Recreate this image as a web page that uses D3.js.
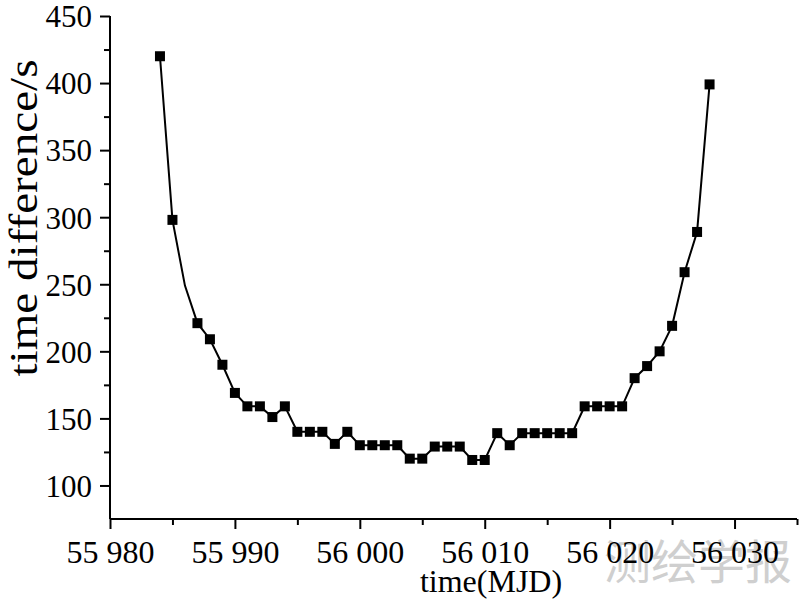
<!DOCTYPE html>
<html>
<head>
<meta charset="utf-8">
<script src="https://cdn.jsdelivr.net/npm/d3@7"></script>
<style>
  html, body { margin: 0; padding: 0; background: #fff; }
  svg { display: block; }
</style>
</head>
<body>
<svg id="chart" width="800" height="612"></svg>
<script>
// line vertices (55986 is a vertex of the line with no marker in the reference)
const mjd = [55984, 55985, 55986, 55987, 55988, 55989, 55990, 55991, 55992, 55993, 55994,
             55995, 55996, 55997, 55998, 55999, 56000, 56001, 56002, 56003, 56004,
             56005, 56006, 56007, 56008, 56009, 56010, 56011, 56012, 56013, 56014,
             56015, 56016, 56017, 56018, 56019, 56020, 56021, 56022, 56023, 56024,
             56025, 56026, 56027, 56028];
const timeDiff = [420, 298, 249, 221, 209, 190, 169, 159, 159, 151, 159,
                  140, 140, 140, 131, 140, 130, 130, 130, 130, 120,
                  120, 129, 129, 129, 119, 119, 139, 130, 139, 139,
                  139, 139, 139, 159, 159, 159, 159, 180, 189, 200,
                  219, 259, 289, 399];
const unmarked = [55986];
const xMajorTicks = [55980, 55990, 56000, 56010, 56020, 56030];
const xMinorTicks = [55985, 55995, 56005, 56015, 56025, 56035];
const yMajorTicks = [100, 150, 200, 250, 300, 350, 400, 450];
const yMinorTicks = [125, 175, 225, 275, 325, 375, 425];
const xTitle = "time(MJD)";
const yTitle = "time difference/s";
const watermark = "测绘学报";

const SERIF = "'Liberation Serif', 'Times New Roman', serif";
const svg = d3.select("#chart");
const x = d3.scaleLinear().domain([55980, 56035]).range([110, 797]);
const y = d3.scaleLinear().domain([75, 450]).range([519, 16]);

const fmtX = v => { const s = String(v); return s.slice(0, 2) + " " + s.slice(2); };

// watermark
svg.append("text")
  .attr("x", 698).attr("y", 579)
  .attr("text-anchor", "middle")
  .style("font-family", "'Noto Sans CJK SC', sans-serif")
  .style("font-size", "47px")
  .style("fill", "#cfcfcf")
  .text(watermark);

// x axis
const gx = svg.append("g").attr("transform", "translate(0,519)");
gx.call(d3.axisBottom(x).tickValues(xMinorTicks).tickSize(6).tickFormat(""));
gx.append("g").call(d3.axisBottom(x).tickValues(xMajorTicks).tickSize(10).tickPadding(10).tickFormat(fmtX));
gx.selectAll("path.domain").attr("d", `M${x.range()[0]},0H${x.range()[1]}`);
gx.selectAll(".tick text").attr("dy", "0.74em")
  .attr("font-family", SERIF).style("font-family", SERIF).style("font-size", "32px").style("fill", "#000");

// y axis
const gy = svg.append("g").attr("transform", "translate(110,0)");
gy.call(d3.axisLeft(y).tickValues(yMinorTicks).tickSize(6).tickFormat(""));
gy.append("g").call(d3.axisLeft(y).tickValues(yMajorTicks).tickSize(10).tickPadding(8).tickFormat(d3.format("d")));
gy.selectAll("path.domain").attr("d", `M0,${y.range()[0]}V${y.range()[1]}`);
gy.selectAll(".tick text").attr("dy", "0.35em")
  .attr("font-family", SERIF).style("font-family", SERIF).style("font-size", "31px").style("fill", "#000");

svg.selectAll(".domain").attr("fill", "none").attr("stroke", "#000").attr("stroke-width", 2);
svg.selectAll(".tick line").attr("stroke", "#000").attr("stroke-width", 2);

// titles
svg.append("text")
  .attr("x", 491).attr("y", 592)
  .attr("text-anchor", "middle")
  .style("font-family", SERIF)
  .style("font-size", "32px")
  .text(xTitle);
svg.append("text")
  .attr("transform", "translate(37,218) rotate(-90)")
  .attr("text-anchor", "middle")
  .attr("textLength", 317)
  .attr("lengthAdjust", "spacingAndGlyphs")
  .style("font-family", SERIF)
  .style("font-size", "40px")
  .text(yTitle);

// line
const pts = mjd.map((m, i) => [m, timeDiff[i]]);
const line = d3.line().x(d => x(d[0])).y(d => y(d[1]));
svg.append("path")
  .datum(pts)
  .attr("d", line)
  .attr("fill", "none")
  .attr("stroke", "#000")
  .attr("stroke-width", 2);

// markers
const ms = 10;
svg.selectAll("rect.pt")
  .data(pts.filter(d => !unmarked.includes(d[0])))
  .join("rect")
  .attr("class", "pt")
  .attr("x", d => x(d[0]) - ms / 2)
  .attr("y", d => y(d[1]) - ms / 2)
  .attr("width", ms)
  .attr("height", ms)
  .attr("fill", "#000");
</script>
</body>
</html>
